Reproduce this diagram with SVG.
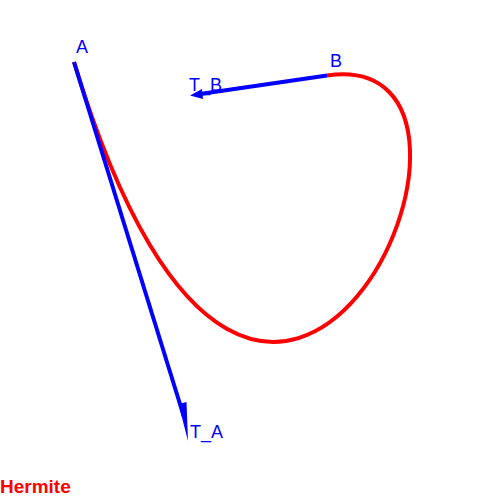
<svg xmlns="http://www.w3.org/2000/svg" width="500" height="500" viewBox="0 0 500 500">
<style>
.curve{fill:none;stroke:#ff0000;stroke-width:4}
.vec{stroke:#0000ff;stroke-width:4;fill:none}
.head{fill:#0000ff;stroke:none}
.lbl{font-family:"Liberation Sans",Arial,sans-serif;font-size:18px;fill:#0000ff}
.title{font-family:"Liberation Sans",Arial,sans-serif;font-size:19px;font-weight:bold;fill:#ff0000}
</style>
<rect width="500" height="500" fill="#ffffff"/>
<g id="connectors">
<path class="curve" d="M74,62 C267,700 553,43 327,75.5"/>
<line class="vec" x1="74" y1="62" x2="184" y2="417"/>
<polygon class="head" points="188,441 178.5,404 186.5,402"/>
<line class="vec" x1="327" y1="75.5" x2="200" y2="94"/>
<polygon class="head" points="190,95.5 202,89 203,99"/>
</g>
<g id="A"><text class="lbl" x="76" y="53">A</text></g>
<g id="B"><text class="lbl" x="330" y="67">B</text></g>
<g id="T_B"><text class="lbl" x="189" y="91">T_B</text></g>
<g id="T_A"><text class="lbl" x="190" y="438">T_A</text></g>
<g id="title"><text class="title" x="0" y="493">Hermite</text></g>
</svg>
